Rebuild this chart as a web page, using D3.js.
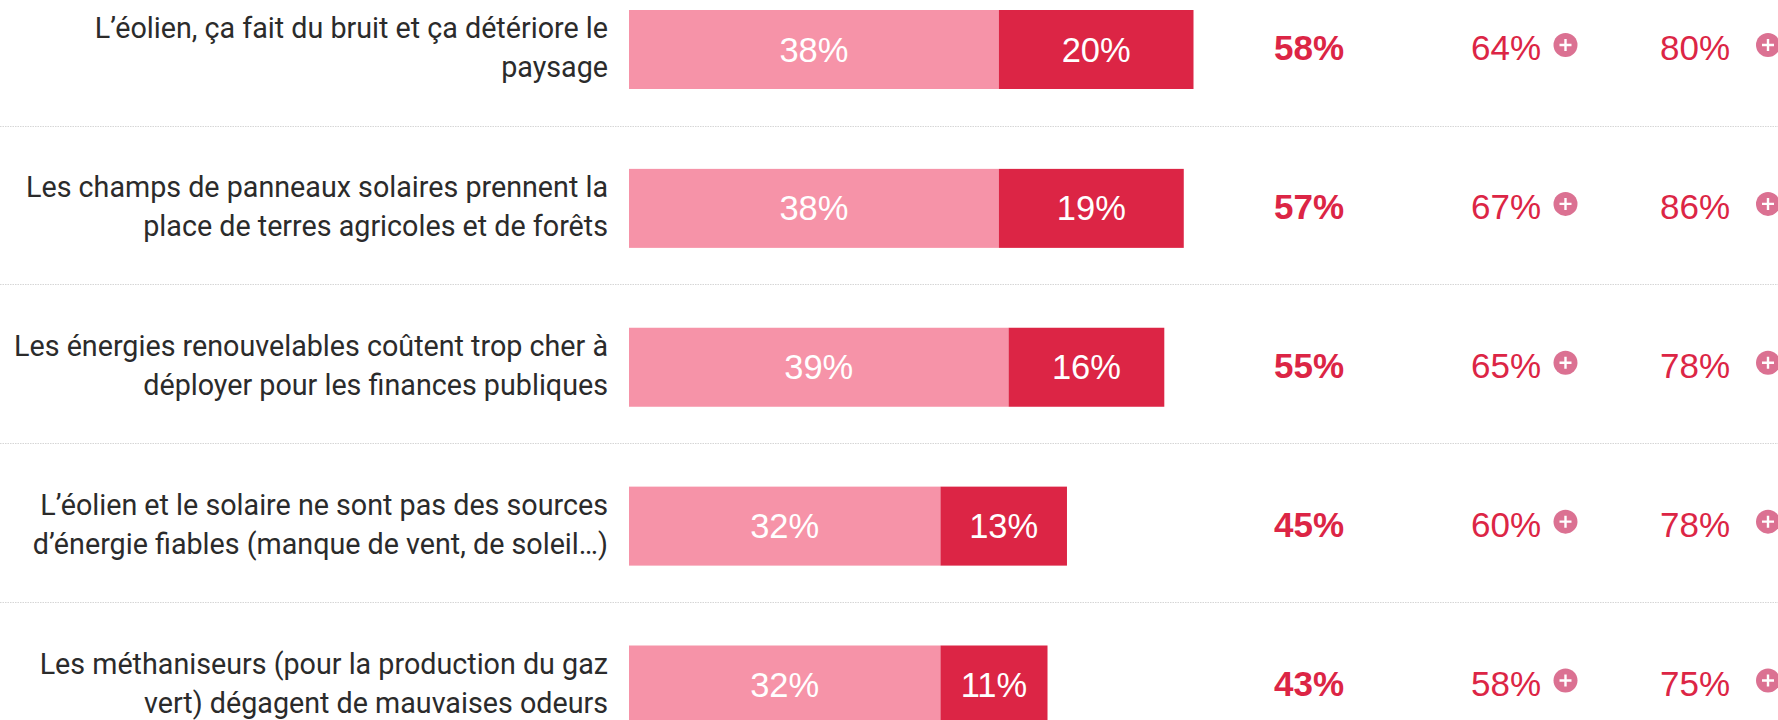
<!DOCTYPE html>
<html><head><meta charset="utf-8">
<script src="https://cdn.jsdelivr.net/npm/d3@7/dist/d3.min.js"></script>
<style>html,body{margin:0;padding:0;background:#fff;overflow:hidden}svg{display:block}</style>
</head><body><svg id="c" width="1778" height="720"></svg>
<script>
const labels = [
  ["L’éolien, ça fait du bruit et ça détériore le","paysage"],
  ["Les champs de panneaux solaires prennent la","place de terres agricoles et de forêts"],
  ["Les énergies renouvelables coûtent trop cher à","déployer pour les finances publiques"],
  ["L’éolien et le solaire ne sont pas des sources","d’énergie fiables (manque de vent, de soleil…)"],
  ["Les méthaniseurs (pour la production du gaz","vert) dégagent de mauvaises odeurs"]
];
const lightValues = [38,38,39,32,32];
const darkValues  = [20,19,16,13,11];
const totals      = [58,57,55,45,43];
const group1      = [64,67,65,60,58];
const group2      = [80,86,78,78,75];

const svg = d3.select("#c");
const idx = d3.range(labels.length);
const x = d3.scaleLinear().domain([0,58]).range([629,1193.5]);
const rowTop = d3.scaleLinear().domain([0,4]).range([10,645.5]);
const num = "'Liberation Sans',Arial,sans-serif";
const lab = "Roboto,sans-serif";
const red = "#dc2545", pink = "#f693a8", icon = "#db7192";

idx.slice(0,4).forEach(i=>{
  svg.append("line").attr("x1",0).attr("x2",1778)
    .attr("y1",Math.floor(rowTop(i)+116)+.5).attr("y2",Math.floor(rowTop(i)+116)+.5)
    .attr("stroke","#d6d6d6").attr("stroke-width",1).attr("stroke-dasharray","1.5 1");
});

const row = svg.selectAll("g.row").data(idx).join("g").attr("class","row")
  .attr("transform",i=>`translate(0,${rowTop(i)})`);

row.append("rect").attr("x",x(0)).attr("y",0).attr("height",79)
  .attr("width",i=>x(lightValues[i])-x(0)).attr("fill",pink);
row.append("rect").attr("x",i=>x(lightValues[i])).attr("y",0).attr("height",79)
  .attr("width",i=>x(lightValues[i]+darkValues[i])-x(lightValues[i])).attr("fill",red);

const pct = d=>d+"%";
row.append("text").attr("x",i=>(x(0)+x(lightValues[i]))/2).attr("y",51.5)
  .attr("text-anchor","middle").attr("font-family",num).attr("font-size",34.5).attr("fill","#fff")
  .text(i=>pct(lightValues[i]));
row.append("text").attr("x",i=>(x(lightValues[i])+x(lightValues[i]+darkValues[i]))/2).attr("y",51.5)
  .attr("text-anchor","middle").attr("font-family",num).attr("font-size",34.5).attr("fill","#fff")
  .text(i=>pct(darkValues[i]));

row.each(function(i){
  const t = d3.select(this).append("text").attr("text-anchor","end").attr("font-family",lab)
    .attr("font-size",28.7).attr("fill","#2b2b2b");
  labels[i].forEach((s,k)=>t.append("tspan").attr("x",608).attr("y",28+k*39).text(s));
});

row.append("text").attr("x",1309).attr("y",50).attr("text-anchor","middle").attr("font-family",num)
  .attr("font-size",35).attr("font-weight",700).attr("fill",red).text(i=>pct(totals[i]));
row.append("text").attr("x",1471).attr("y",50).attr("font-family",num)
  .attr("font-size",35).attr("fill",red).text(i=>pct(group1[i]));
row.append("text").attr("x",1660).attr("y",50).attr("font-family",num)
  .attr("font-size",35).attr("fill",red).text(i=>pct(group2[i]));

[1565.5,1768].forEach(cx=>{
  row.append("circle").attr("cx",cx).attr("cy",35).attr("r",12).attr("fill",icon);
  row.append("path").attr("d",`M${cx-6},35H${cx+6}M${cx},29V41`).attr("stroke","#fff").attr("stroke-width",2.4);
});
</script></body></html>
